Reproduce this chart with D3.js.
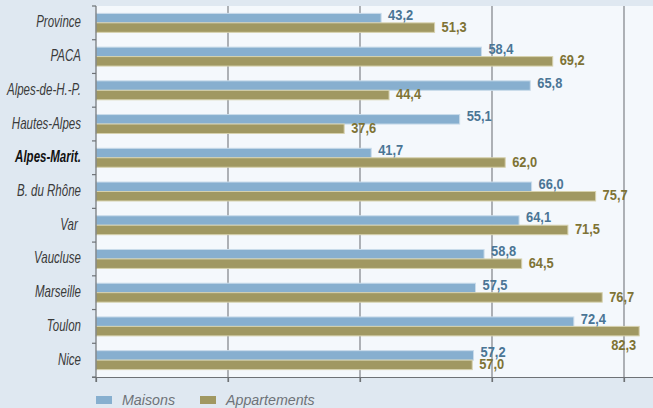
<!DOCTYPE html>
<html>
<head>
<meta charset="utf-8">
<script src="https://cdn.jsdelivr.net/npm/d3@7"></script>
<style>
  html, body { margin: 0; padding: 0; background: #dfe8f1; }
  svg { display: block; }
  text { white-space: pre; }
</style>
</head>
<body>
<svg id="chart" width="653" height="408"></svg>
<script>
const categories = ["Province", "PACA", "Alpes-de-H.-P.", "Hautes-Alpes", "Alpes-Marit.", "B. du Rhône", "Var ", "Vaucluse", "Marseille", "Toulon", "Nice"];
const maisons = [43.2, 58.4, 65.8, 55.1, 41.7, 66.0, 64.1, 58.8, 57.5, 72.4, 57.2];
const appartements = [51.3, 69.2, 44.4, 37.6, 62.0, 75.7, 71.5, 64.5, 76.7, 82.3, 57.0];
const seriesNames = ["Maisons", "Appartements"];
const xTicks = [0, 20, 40, 60, 80];
const highlighted = "Alpes-Marit.";

const W = 653, H = 408;
const margin = { left: 96, top: 6, bottom: 31 };
const plotBottom = H - margin.bottom;

const colors = { Maisons: "#87afcf", Appartements: "#a09862" };
const strokes = { Maisons: "#c9dbea", Appartements: "#d6d1ad" };
const labelColors = { Maisons: "#4a7595", Appartements: "#7e7335" };
const labelLift = { Maisons: 2.8, Appartements: 0.6 };
const font = "'Liberation Sans', Arial, sans-serif";

const svg = d3.select("#chart");

const x = d3.scaleLinear().domain([0, 80]).range([margin.left, 624]);
const y = d3.scaleBand().domain(categories).range([margin.top, plotBottom]).padding(0);
const ySub = d3.scaleBand().domain(seriesNames).range([0, y.bandwidth()]).paddingInner(0).paddingOuter(0.78);

// plot background
svg.append("rect")
  .attr("x", margin.left).attr("y", margin.top)
  .attr("width", W - margin.left).attr("height", plotBottom - margin.top)
  .attr("fill", "#f4f8fc");

// gridlines
svg.append("g").selectAll("line").data(xTicks.slice(1)).join("line")
  .attr("x1", d => x(d)).attr("x2", d => x(d))
  .attr("y1", margin.top).attr("y2", plotBottom + 5)
  .attr("stroke", "#7d8186").attr("stroke-width", 1.2);

const rows = categories.map((c, i) => ({ cat: c, values: [
  { s: "Maisons", v: maisons[i] },
  { s: "Appartements", v: appartements[i] }
]}));

const g = svg.append("g").selectAll("g").data(rows).join("g")
  .attr("transform", d => `translate(0,${y(d.cat)})`);

g.selectAll("rect").data(d => d.values).join("rect")
  .attr("x", x(0))
  .attr("y", d => ySub(d.s))
  .attr("width", d => x(d.v) - x(0))
  .attr("height", ySub.bandwidth())
  .attr("fill", d => colors[d.s])
  .attr("stroke", d => strokes[d.s])
  .attr("stroke-width", 1);

const fmt = v => d3.format(".1f")(v).replace(".", ",");
const valScale = 0.83;

g.selectAll("text.val").data(d => d.values).join("text")
  .attr("class", "val")
  .each(function(d) {
    const t = d3.select(this);
    const end = x(d.v);
    const overflow = end + 7 + 28 > W;
    let tx, ty;
    if (overflow) {
      tx = end - 3; ty = ySub(d.s) + ySub.bandwidth() + 14.5;
      t.attr("text-anchor", "end");
    } else {
      tx = end + 7; ty = ySub(d.s) + ySub.bandwidth() - labelLift[d.s];
      t.attr("text-anchor", "start");
    }
    t.attr("transform", `translate(${tx},${ty}) scale(${valScale},1)`);
  })
  .attr("font-family", font)
  .attr("font-weight", "bold")
  .attr("font-size", 15.5)
  .attr("fill", d => labelColors[d.s])
  .text(d => fmt(d.v));

// y axis
const yAxis = svg.append("g").attr("transform", `translate(${margin.left},0)`);
yAxis.append("line").attr("x1", 0).attr("x2", 0).attr("y1", margin.top).attr("y2", plotBottom + 5)
  .attr("stroke", "#6e7276").attr("stroke-width", 1.2);
const boundaries = categories.map(c => y(c)).concat([plotBottom]);
yAxis.selectAll("line.tk").data(boundaries).join("line").attr("class", "tk")
  .attr("x1", -4).attr("x2", 0).attr("y1", d => d).attr("y2", d => d)
  .attr("stroke", "#6e7276").attr("stroke-width", 1.2);

// category labels
svg.append("g").selectAll("text").data(categories).join("text")
  .attr("transform", d => `translate(81,${y(d) + y.bandwidth() / 2 + 4.5}) scale(0.72,1)`)
  .attr("text-anchor", "end")
  .attr("font-family", font)
  .attr("font-style", "italic")
  .attr("font-weight", d => d === highlighted ? "bold" : "normal")
  .attr("font-size", 16)
  .attr("fill", d => d === highlighted ? "#111" : "#3a3a3a")
  .text(d => d);

// x axis
const xAxis = svg.append("g").attr("transform", `translate(0,${plotBottom})`)
  .call(d3.axisBottom(x).tickValues(xTicks).tickSize(5).tickFormat("").tickSizeOuter(0));
xAxis.select(".domain").attr("d", `M${margin.left - 4},0.5H${W}`).attr("stroke", "#6e7276").attr("stroke-width", 1.2);
xAxis.selectAll(".tick line").attr("stroke", "#6e7276").attr("stroke-width", 1.2);

// legend
const legend = svg.append("g").selectAll("g").data(seriesNames).join("g")
  .attr("transform", (d, i) => `translate(${[96, 200][i]},396)`);
legend.append("rect").attr("width", 16).attr("height", 8).attr("fill", d => colors[d]);
legend.append("text")
  .attr("transform", "translate(26,9) scale(0.92,1)")
  .attr("font-family", font)
  .attr("font-style", "italic").attr("font-size", 15.5)
  .attr("fill", "#6e7378")
  .text(d => d);
</script>
</body>
</html>
